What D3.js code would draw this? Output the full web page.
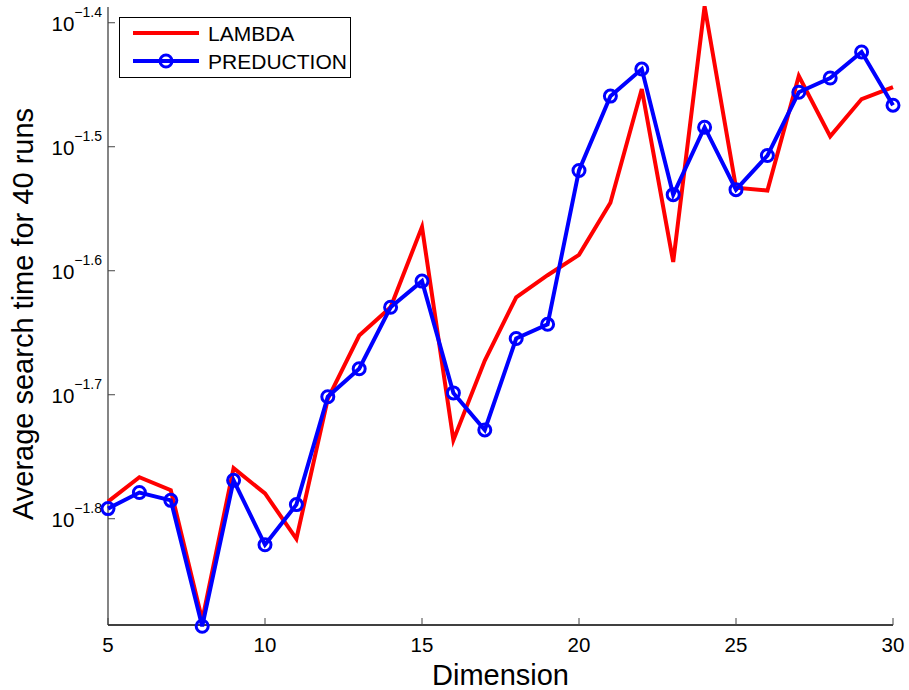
<!DOCTYPE html>
<html>
<head>
<meta charset="utf-8">
<script src="https://cdn.jsdelivr.net/npm/d3@7"></script>
<style>
  html, body { margin: 0; padding: 0; background: #fff; }
  svg { display: block; font-family: "Liberation Sans", Arial, sans-serif; }
</style>
</head>
<body>
<svg id="chart" width="909" height="690"></svg>
<script>
const dimensions = [5, 6, 7, 8, 9, 10, 11, 12, 13, 14, 15, 16, 17, 18, 19, 20, 21, 22, 23, 24, 25, 26, 27, 28, 29, 30];
const lambdaTimes = [0.01636, 0.01712, 0.01671, 0.01313, 0.01741, 0.01661, 0.01527, 0.01980, 0.02227, 0.02347,
                     0.02725, 0.01834, 0.02126, 0.02391, 0.02491, 0.02587, 0.02850, 0.03520, 0.02553, 0.04105,
                     0.02931, 0.02915, 0.03606, 0.03224, 0.03455, 0.03533];
const predictionTimes = [0.01615, 0.01664, 0.01640, 0.01298, 0.01702, 0.01510, 0.01627, 0.01988, 0.02094, 0.02347,
                         0.02464, 0.02002, 0.01869, 0.02215, 0.02274, 0.03026, 0.03474, 0.03653, 0.02893, 0.03279,
                         0.02920, 0.03111, 0.03499, 0.03593, 0.03771, 0.03416];
const seriesNames = ["LAMBDA", "PREDUCTION"];
const seriesColors = ["#ff0000", "#0000ff"];
const xTicks = [5, 10, 15, 20, 25, 30];
const yTickExponents = [-1.8, -1.7, -1.6, -1.5, -1.4];
const yTickLabels = ["\u22121.8", "\u22121.7", "\u22121.6", "\u22121.5", "\u22121.4"];
const xLabel = "Dimension";
const yLabel = "Average search time for 40 runs";

(function () {
const svg = d3.select("#chart");
const mLeft = 108, mRight = 893, mTop = 7, mBottom = 625;

const x = d3.scaleLinear().domain([5, 30]).range([mLeft, mRight]);
const y = d3.scaleLog().domain([Math.pow(10, -1.8857), Math.pow(10, -1.3873)]).range([mBottom, mTop]);

// Axes lines
svg.append("line").attr("x1", mLeft).attr("x2", mLeft).attr("y1", mTop).attr("y2", mBottom)
  .attr("stroke", "#333").attr("stroke-width", 1.2);
svg.append("line").attr("x1", mLeft).attr("x2", mRight).attr("y1", mBottom).attr("y2", mBottom)
  .attr("stroke", "#000").attr("stroke-width", 1.4);

// X ticks
const xg = svg.append("g");
xTicks.forEach(t => {
  xg.append("line").attr("x1", x(t)).attr("x2", x(t)).attr("y1", mBottom).attr("y2", mBottom - 7)
    .attr("stroke", "#444").attr("stroke-width", 1);
  xg.append("text").attr("x", x(t)).attr("y", 652).attr("text-anchor", "middle")
    .attr("font-size", 20.5).attr("fill", "#000").text(t);
});

// Y ticks
const yg = svg.append("g");
yTickExponents.forEach((e, i) => {
  const v = Math.pow(10, e);
  const py = y(v);
  yg.append("line").attr("x1", mLeft).attr("x2", mLeft + 7).attr("y1", py).attr("y2", py)
    .attr("stroke", "#444").attr("stroke-width", 1);
  const t = yg.append("text").attr("x", 102).attr("y", py + 8).attr("text-anchor", "end").attr("fill", "#000");
  t.append("tspan").attr("font-size", 20.5).text("10");
  t.append("tspan").attr("font-size", 14).attr("dy", -14).text(yTickLabels[i]);
});

// Axis labels
svg.append("text").attr("x", (mLeft + mRight) / 2).attr("y", 685).attr("text-anchor", "middle")
  .attr("font-size", 29).attr("fill", "#000").text(xLabel);
svg.append("text").attr("transform", "translate(33,314) rotate(-90)").attr("text-anchor", "middle")
  .attr("font-size", 29).attr("fill", "#000").text(yLabel);

// Lines
const line = d3.line().x(d => x(d[0])).y(d => y(d[1]));
const lambdaData = dimensions.map((d, i) => [d, lambdaTimes[i]]);
const predData = dimensions.map((d, i) => [d, predictionTimes[i]]);

svg.append("path").datum(lambdaData).attr("d", line).attr("fill", "none")
  .attr("stroke", seriesColors[0]).attr("stroke-width", 4).attr("stroke-linejoin", "miter");
svg.append("path").datum(predData).attr("d", line).attr("fill", "none")
  .attr("stroke", seriesColors[1]).attr("stroke-width", 4).attr("stroke-linejoin", "miter");
svg.append("g").selectAll("circle").data(predData).join("circle")
  .attr("cx", d => x(d[0])).attr("cy", d => y(d[1])).attr("r", 6)
  .attr("fill", "none").attr("stroke", seriesColors[1]).attr("stroke-width", 3);

// Legend
const lg = svg.append("g");
lg.append("rect").attr("x", 119.5).attr("y", 17.5).attr("width", 231).attr("height", 60)
  .attr("fill", "#fff").attr("stroke", "#000").attr("stroke-width", 1);
const legendRows = [33, 61];
seriesNames.forEach((name, i) => {
  const ly = legendRows[i];
  lg.append("line").attr("x1", 133).attr("x2", 199).attr("y1", ly).attr("y2", ly)
    .attr("stroke", seriesColors[i]).attr("stroke-width", 4);
  if (i === 1) {
    lg.append("circle").attr("cx", 166).attr("cy", ly).attr("r", 6)
      .attr("fill", "none").attr("stroke", seriesColors[i]).attr("stroke-width", 3);
  }
  lg.append("text").attr("x", 208).attr("y", ly + 7.5).attr("font-size", 21).attr("fill", "#000")
    .attr("textLength", i === 1 ? 139 : null).text(name);
});
})();
</script>
</body>
</html>
